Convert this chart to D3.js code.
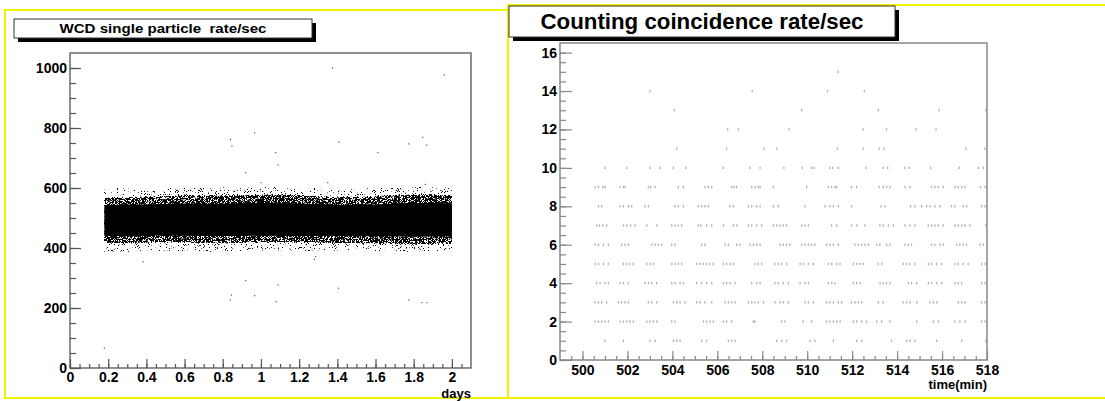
<!DOCTYPE html>
<html>
<head>
<meta charset="utf-8">
<title>WCD rates</title>
<script src="https://d3js.org/d3.v7.min.js"></script>
<style>
  body { margin: 0; background: #fff; }
  text { font-family: "Liberation Sans", Arial, sans-serif; font-weight: bold; }
</style>
</head>
<body>
<svg width="1105" height="401"></svg>
<script>
// ---- left panel: WCD single particle rate (dense band summarised by edges) ----
const bandDays  = [0.18, 0.3, 0.45, 0.6, 0.75, 0.9, 1.05, 1.2, 1.35, 1.5, 1.65, 1.8, 2.0];
const outerHigh = [598, 600, 597, 600, 602, 600, 603, 600, 598, 597, 600, 603, 600];
const midHigh   = [568, 570, 572, 575, 575, 577, 578, 575, 572, 570, 574, 578, 576];
const coreHigh  = [543, 545, 546, 548, 547, 549, 550, 548, 545, 544, 547, 550, 549];
const coreLow   = [440, 440, 442, 441, 440, 440, 441, 440, 441, 440, 439, 438, 439];
const midLow    = [418, 416, 418, 418, 415, 417, 418, 418, 417, 416, 415, 413, 414];
const outerLow  = [385, 388, 390, 390, 388, 390, 392, 390, 390, 392, 390, 388, 390];

const outlierDays  = [1.375, 1.96, 0.967, 0.84, 0.848, 1.408, 1.774, 1.847, 1.868, 1.077, 1.612, 1.089, 0.92, 1.0, 1.35, 1.861,
                      1.286, 1.28, 0.383, 0.845, 0.84, 0.92, 0.967, 1.089, 1.08, 1.406, 1.774, 1.843, 1.87, 0.18];
const outlierRates = [1000, 977, 784, 762, 740, 753, 747, 769, 743, 718, 718, 677, 651, 618, 618, 612,
                      371, 362, 354, 243, 227, 291, 241, 277, 221, 266, 227, 218, 218, 66];

const leftXTicks = [0, 0.2, 0.4, 0.6, 0.8, 1, 1.2, 1.4, 1.6, 1.8, 2];
const leftYTicks = [0, 200, 400, 600, 800, 1000];

// ---- right panel: counting coincidence rate, times (min) of each count level ----
const timesAt1 = [501.0, 501.82, 503.0, 503.23, 504.04, 504.19, 504.34, 505.3, 505.52, 506.49, 506.64, 506.79, 508.64, 508.86,
  509.08, 510.12, 510.34, 511.16, 512.2, 512.42, 513.75, 514.42, 514.57, 514.79, 515.76, 516.87, 517.95];
const timesAt2 = [500.56, 500.71, 500.85, 501.0, 501.15, 501.67, 501.82, 501.97, 502.11, 502.26, 502.86, 503.0, 503.15, 503.3,
  503.97, 504.12, 505.38, 505.52, 505.67, 505.82, 506.27, 506.41, 506.64, 507.6, 507.67, 508.86, 509.01, 509.82, 510.2,
  510.86, 511.01, 511.16, 511.31, 511.46, 512.05, 512.2, 512.42, 512.64, 513.09, 513.31, 513.68, 514.87, 515.61, 515.83,
  516.57, 516.79, 517.02, 517.76, 517.91];
const timesAt3 = [500.56, 500.71, 500.85, 501.08, 501.6, 501.74, 501.89, 502.04, 502.93, 503.08, 503.3, 504.04, 504.19, 504.34,
  504.56, 505.08, 505.23, 505.45, 505.75, 506.34, 506.49, 506.64, 506.79, 507.38, 507.53, 507.67, 507.82, 508.05, 508.56,
  508.79, 508.93, 509.16, 509.9, 510.05, 510.27, 510.86, 511.01, 511.16, 511.38, 511.53, 511.97, 512.12, 512.27, 512.42,
  513.16, 513.38, 514.27, 514.42, 514.57, 514.87, 515.46, 515.61, 515.76, 516.72, 516.87, 517.02, 517.76, 517.91];
const timesAt4 = [500.63, 500.78, 501.0, 501.15, 501.67, 501.82, 502.04, 502.78, 502.93, 503.08, 503.3, 503.97, 504.12, 504.34,
  504.49, 505.08, 505.3, 505.52, 505.75, 506.27, 506.41, 506.56, 506.79, 507.53, 507.75, 507.9, 508.56, 508.71, 508.93,
  509.16, 509.68, 509.9, 510.05, 510.94, 511.09, 511.23, 512.05, 512.2, 512.35, 513.24, 513.38, 513.53, 513.68, 514.5,
  514.64, 514.87, 515.39, 515.53, 515.76, 515.98, 516.57, 516.72, 516.87, 517.76, 517.91];
const timesAt5 = [500.56, 500.71, 500.93, 501.15, 501.82, 501.97, 502.11, 502.26, 502.86, 503.0, 503.15, 503.97, 504.12, 504.26,
  504.41, 505.08, 505.23, 505.38, 505.52, 505.67, 505.82, 506.27, 506.41, 506.56, 506.71, 507.67, 507.82, 507.97, 508.56,
  508.71, 508.86, 509.08, 509.68, 509.82, 510.05, 510.27, 510.94, 511.09, 511.31, 511.46, 512.05, 512.2, 512.35, 512.49,
  513.16, 513.31, 514.27, 514.42, 514.57, 514.79, 515.39, 515.53, 515.76, 515.98, 516.57, 516.72, 516.94, 517.16, 517.76, 517.91];
const timesAt6 = [500.56, 500.71, 500.93, 501.15, 501.74, 501.89, 502.04, 503.08, 503.23, 503.37, 503.52, 503.97, 504.12, 505.3,
  505.45, 506.34, 506.49, 506.86, 507.01, 507.45, 507.6, 507.75, 507.9, 508.79, 508.93, 509.08, 509.23, 509.75, 509.9,
  510.05, 510.19, 510.34, 510.86, 511.01, 511.16, 511.38, 512.12, 512.27, 512.42, 512.57, 512.72, 513.09, 513.23, 513.53,
  513.68, 514.35, 514.5, 514.64, 515.53, 515.68, 515.9, 516.05, 516.65, 516.79, 516.94, 517.09, 517.68, 517.83];
const timesAt7 = [500.63, 500.75, 500.9, 501.08, 501.82, 501.97, 502.14, 502.34, 502.86, 503.3, 503.97, 504.12, 504.26, 504.41,
  505.15, 505.26, 505.52, 505.75, 506.27, 506.71, 506.86, 507.38, 507.53, 507.75, 507.97, 508.49, 508.64, 508.79, 508.93,
  509.08, 509.75, 509.9, 510.05, 511.08, 511.31, 511.97, 512.2, 512.57, 513.23, 513.38, 513.61, 513.83, 514.35, 514.57,
  514.79, 515.38, 515.53, 515.68, 515.83, 516.05, 516.57, 516.72, 516.87, 517.02, 517.24, 517.95];
const timesAt8 = [500.71, 500.85, 501.67, 501.82, 502.04, 502.19, 502.78, 502.93, 504.12, 504.26, 504.49, 505.15, 505.3, 505.45,
  505.6, 506.56, 506.71, 507.38, 507.53, 507.75, 507.9, 508.49, 508.71, 509.9, 510.79, 511.01, 511.16, 511.38, 511.97,
  513.28, 513.46, 514.6, 514.79, 515.09, 515.31, 515.46, 515.68, 515.9, 516.42, 516.57, 516.94, 517.09, 517.76, 517.91];
const timesAt9 = [500.56, 500.71, 500.9, 501.0, 501.67, 501.82, 501.89, 502.93, 503.03, 503.23, 504.26, 504.49, 505.45, 505.6,
  505.75, 506.64, 506.74, 506.86, 507.53, 507.67, 507.82, 507.9, 508.49, 509.97, 510.94, 511.08, 511.23, 511.31, 511.97,
  512.2, 513.2, 513.38, 513.53, 513.68, 514.35, 514.57, 515.53, 515.68, 515.83, 516.05, 516.57, 516.72, 516.87, 517.02,
  517.71, 517.91];
const timesAt10 = [501.0, 501.97, 503.0, 503.45, 504.04, 504.6, 506.26, 507.45, 507.9, 508.96, 509.78, 510.2, 510.3, 511.0,
  511.13, 511.38, 512.61, 513.38, 513.58, 514.35, 514.54, 515.49, 516.76, 517.61, 517.83];
const timesAt11 = [504.19, 506.41, 508.07, 508.64, 511.34, 512.49, 513.2, 513.41, 517.06, 517.9];
const timesAt12 = [506.46, 506.93, 509.19, 512.49, 513.53, 514.84, 515.73];
const timesAt13 = [504.09, 509.75, 513.16, 515.87, 517.95];
const timesAt14 = [503.0, 507.55, 510.9, 512.54];
const timesAt15 = [511.38];

const countLevels = [1, 2, 3, 4, 5, 6, 7, 8, 9, 10, 11, 12, 13, 14, 15];
const timesByLevel = [timesAt1, timesAt2, timesAt3, timesAt4, timesAt5, timesAt6, timesAt7, timesAt8,
  timesAt9, timesAt10, timesAt11, timesAt12, timesAt13, timesAt14, timesAt15];

const rightXTicks = [500, 502, 504, 506, 508, 510, 512, 514, 516, 518];
const rightYTicks = [0, 2, 4, 6, 8, 10, 12, 14, 16];

const svg = d3.select("svg");
svg.append("rect").attr("width", 1105).attr("height", 401).attr("fill", "#fff");

// grain filter: turns the opacity of the band layers into a speckle of single dots
const defs = svg.append("defs");
const grain = defs.append("filter").attr("id", "grain")
  .attr("x", 0).attr("y", 0).attr("width", 1).attr("height", 1)
  .attr("color-interpolation-filters", "sRGB");
grain.append("feTurbulence").attr("type", "fractalNoise").attr("baseFrequency", 1.3)
  .attr("numOctaves", 2).attr("seed", 7).attr("result", "noise");
grain.append("feColorMatrix").attr("in", "noise").attr("type", "matrix")
  .attr("values", "0 0 0 0 0  0 0 0 0 0  0 0 0 0 0  1 0 0 0 0").attr("result", "na");
grain.append("feComponentTransfer").attr("in", "na").attr("result", "nu")
  .append("feFuncA").attr("type", "linear").attr("slope", 2).attr("intercept", -0.5);
grain.append("feComposite").attr("in", "SourceGraphic").attr("in2", "nu")
  .attr("operator", "arithmetic").attr("k1", 0).attr("k2", 10).attr("k3", -10).attr("k4", 0).attr("result", "th");
grain.append("feColorMatrix").attr("in", "th").attr("type", "matrix")
  .attr("values", "0 0 0 0 0  0 0 0 0 0  0 0 0 0 0  0 0 0 1 0").attr("result", "blk");
grain.append("feGaussianBlur").attr("in", "blk").attr("stdDeviation", 0.3);

// yellow panel borders
const yellow = "#f2f200";
svg.append("path").attr("fill", "none").attr("stroke", yellow).attr("stroke-width", 2)
  .attr("d", "M507,10 H5 V398 H507");
svg.append("path").attr("fill", "none").attr("stroke", yellow).attr("stroke-width", 2)
  .attr("d", "M1105,5 H508 V398 H1105");

function titleBox(x, y, w, h, label, size, len) {
  svg.append("rect").attr("x", x + 4).attr("y", y + 4).attr("width", w).attr("height", h).attr("fill", "#000");
  svg.append("rect").attr("x", x).attr("y", y).attr("width", w).attr("height", h)
    .attr("fill", "#fff").attr("stroke", "#333").attr("stroke-width", 1);
  svg.append("text").attr("x", x + w / 2).attr("y", y + h / 2).attr("dy", "0.36em")
    .attr("text-anchor", "middle").style("font-size", size + "px").style("white-space", "pre")
    .attr("textLength", len).attr("lengthAdjust", "spacingAndGlyphs").text(label);
}

function styleAxis(g, color, size) {
  g.select(".domain").remove();
  g.selectAll("line").attr("stroke", color).attr("stroke-width", 1.2);
  g.selectAll("text").attr("fill", "#000").style("font-size", size + "px");
}

// ===== left chart =====
const L = { left: 70, top: 53, right: 471, bottom: 368 };
const xL = d3.scaleLinear().domain([0, 2.1]).range([L.left, L.right]);
const yL = d3.scaleLinear().domain([0, 1050]).range([L.bottom, L.top]);

titleBox(14, 19, 298, 19, "WCD single particle  rate/sec", 13, 207);

const band = bandDays.map((d, i) => ({ d, oh: outerHigh[i], mh: midHigh[i], ch: coreHigh[i],
  cl: coreLow[i], ml: midLow[i], ol: outerLow[i] }));
const area = (lo, hi) => d3.area().x(p => xL(p.d)).y0(p => yL(p[lo])).y1(p => yL(p[hi])).curve(d3.curveMonotoneX);
const bandG = svg.append("g").attr("filter", "url(#grain)");
bandG.append("path").datum(band).attr("d", area("ol", "ml")).attr("fill", "#000").attr("fill-opacity", 0.2);
bandG.append("path").datum(band).attr("d", area("mh", "oh")).attr("fill", "#000").attr("fill-opacity", 0.2);
bandG.append("path").datum(band).attr("d", area("ml", "mh")).attr("fill", "#000").attr("fill-opacity", 0.66);
// solid core drawn without grain
svg.append("path").datum(band).attr("d", area("cl", "ch")).attr("fill", "#000");

svg.append("g").selectAll("rect").data(outlierDays).join("rect")
  .attr("x", d => xL(d) - 0.6).attr("y", (d, i) => yL(outlierRates[i]) - 0.6)
  .attr("width", 1.2).attr("height", 1.2).attr("fill", "#555");

svg.append("g").attr("transform", `translate(0,${L.bottom})`)
  .call(d3.axisBottom(xL).tickValues(d3.range(0, 2.1, 0.05)).tickFormat("").tickSizeInner(-4).tickSizeOuter(0))
  .call(g => styleAxis(g, "#555", 14));
svg.append("g").attr("transform", `translate(0,${L.bottom})`)
  .call(d3.axisBottom(xL).tickValues(leftXTicks).tickFormat(d3.format("~g")).tickSizeInner(-9).tickSizeOuter(0).tickPadding(4))
  .call(g => styleAxis(g, "#555", 14));
svg.append("g").attr("transform", `translate(${L.left},0)`)
  .call(d3.axisLeft(yL).tickValues(d3.range(0, 1050, 50)).tickFormat("").tickSizeInner(-6).tickSizeOuter(0))
  .call(g => styleAxis(g, "#555", 14));
svg.append("g").attr("transform", `translate(${L.left},0)`)
  .call(d3.axisLeft(yL).tickValues(leftYTicks).tickFormat(d3.format("d")).tickSizeInner(-11).tickSizeOuter(0).tickPadding(3))
  .call(g => styleAxis(g, "#555", 14));

svg.append("rect").attr("x", L.left).attr("y", L.top).attr("width", L.right - L.left).attr("height", L.bottom - L.top)
  .attr("fill", "none").attr("stroke", "#555").attr("stroke-width", 1.3);
svg.append("text").attr("x", L.right).attr("y", 398).attr("text-anchor", "end").style("font-size", "13px").text("days");

// ===== right chart =====
const R = { left: 560, top: 43, right: 987, bottom: 360 };
const xR = d3.scaleLinear().domain([499, 518]).range([R.left, R.right]);
const yR = d3.scaleLinear().domain([0, 16.5]).range([R.bottom, R.top]);

titleBox(509, 6, 386, 31, "Counting coincidence rate/sec", 22, 323);

const dots = [];
countLevels.forEach((lvl, i) => timesByLevel[i].forEach(t => dots.push({ t, lvl })));
svg.append("g").selectAll("rect").data(dots).join("rect")
  .attr("x", d => xR(d.t) - 0.6).attr("y", d => yR(d.lvl) - 1.2)
  .attr("width", 1.3).attr("height", 2.4).attr("fill", "#b0b0b0");

svg.append("g").attr("transform", `translate(0,${R.bottom})`)
  .call(d3.axisBottom(xR).tickValues(d3.range(499.5, 518, 0.5)).tickFormat("").tickSizeInner(-4).tickSizeOuter(0))
  .call(g => styleAxis(g, "#888", 14));
svg.append("g").attr("transform", `translate(0,${R.bottom})`)
  .call(d3.axisBottom(xR).tickValues(rightXTicks).tickSizeInner(-9).tickSizeOuter(0).tickPadding(5))
  .call(g => styleAxis(g, "#888", 14));
svg.append("g").attr("transform", `translate(${R.left},0)`)
  .call(d3.axisLeft(yR).tickValues(d3.range(0, 16.5, 0.5)).tickFormat("").tickSizeInner(-6).tickSizeOuter(0))
  .call(g => styleAxis(g, "#888", 14));
svg.append("g").attr("transform", `translate(${R.left},0)`)
  .call(d3.axisLeft(yR).tickValues(rightYTicks).tickSizeInner(-12).tickSizeOuter(0).tickPadding(3))
  .call(g => styleAxis(g, "#888", 14));

svg.append("rect").attr("x", R.left).attr("y", R.top).attr("width", R.right - R.left).attr("height", R.bottom - R.top)
  .attr("fill", "none").attr("stroke", "#888").attr("stroke-width", 1.5);
svg.append("text").attr("x", R.right).attr("y", 389).attr("text-anchor", "end").style("font-size", "13px").text("time(min)");
</script>
</body>
</html>
